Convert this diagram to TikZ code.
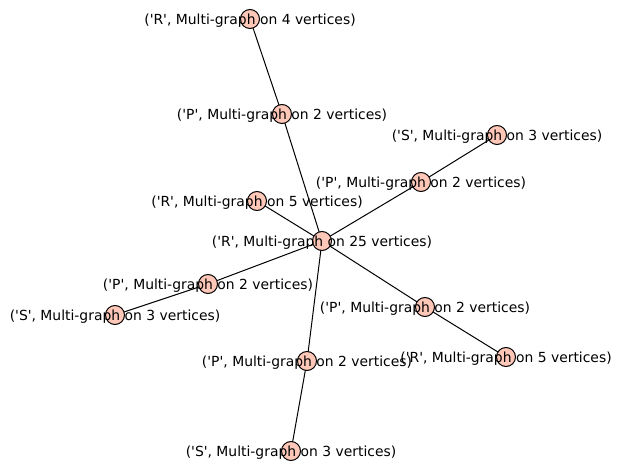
\documentclass[tikz,border=0pt]{standalone}
\usepackage{fontspec}
\newfontfamily\lblfont{DejaVu Sans}
\usetikzlibrary{backgrounds}
\definecolor{vfill}{HTML}{FEC7B8}
\newcommand\sq{\char39\relax}
\tikzset{
  vtx/.style={circle,draw=black,line width=1pt,fill=vfill,minimum size=19pt,inner sep=0pt,
    label={[font=\lblfont\fontsize{13.9}{15}\selectfont,inner sep=0pt,yshift=-1.5pt]center:#1}},
  edge/.style={draw,line width=1pt}
}
\begin{document}
\begin{tikzpicture}[x=1pt,y=-1pt]
    \useasboundingbox (0,0) rectangle (621,470);
    % vertices
    \node[vtx={(\sq R\sq, Multi-graph on 25 vertices)}] (r25) at (322,241) {};
    \node[vtx={(\sq R\sq, Multi-graph on 4 vertices)}] (r4) at (250,19) {};
    \node[vtx={(\sq P\sq, Multi-graph on 2 vertices)}] (pa) at (282,114) {};
    \node[vtx={(\sq S\sq, Multi-graph on 3 vertices)}] (sa) at (497,135) {};
    \node[vtx={(\sq P\sq, Multi-graph on 2 vertices)}] (pb) at (421,182) {};
    \node[vtx={(\sq R\sq, Multi-graph on 5 vertices)}] (ra) at (257,201) {};
    \node[vtx={(\sq P\sq, Multi-graph on 2 vertices)}] (pc) at (208,284) {};
    \node[vtx={(\sq S\sq, Multi-graph on 3 vertices)}] (sb) at (115,315) {};
    \node[vtx={(\sq P\sq, Multi-graph on 2 vertices)}] (pd) at (425,307) {};
    \node[vtx={(\sq R\sq, Multi-graph on 5 vertices)}] (rb) at (506,357) {};
    \node[vtx={(\sq P\sq, Multi-graph on 2 vertices)}] (pe) at (307,361) {};
    \node[vtx={(\sq S\sq, Multi-graph on 3 vertices)}] (sc) at (291,451) {};
    % edges
    \begin{scope}[on background layer]
        \draw[edge] (r4.center) -- (pa.center) -- (r25.center);
        \draw[edge] (sa.center) -- (pb.center) -- (r25.center);
        \draw[edge] (ra.center) -- (r25.center);
        \draw[edge] (sb.center) -- (pc.center) -- (r25.center);
        \draw[edge] (rb.center) -- (pd.center) -- (r25.center);
        \draw[edge] (sc.center) -- (pe.center) -- (r25.center);
    \end{scope}
\end{tikzpicture}
\end{document}
